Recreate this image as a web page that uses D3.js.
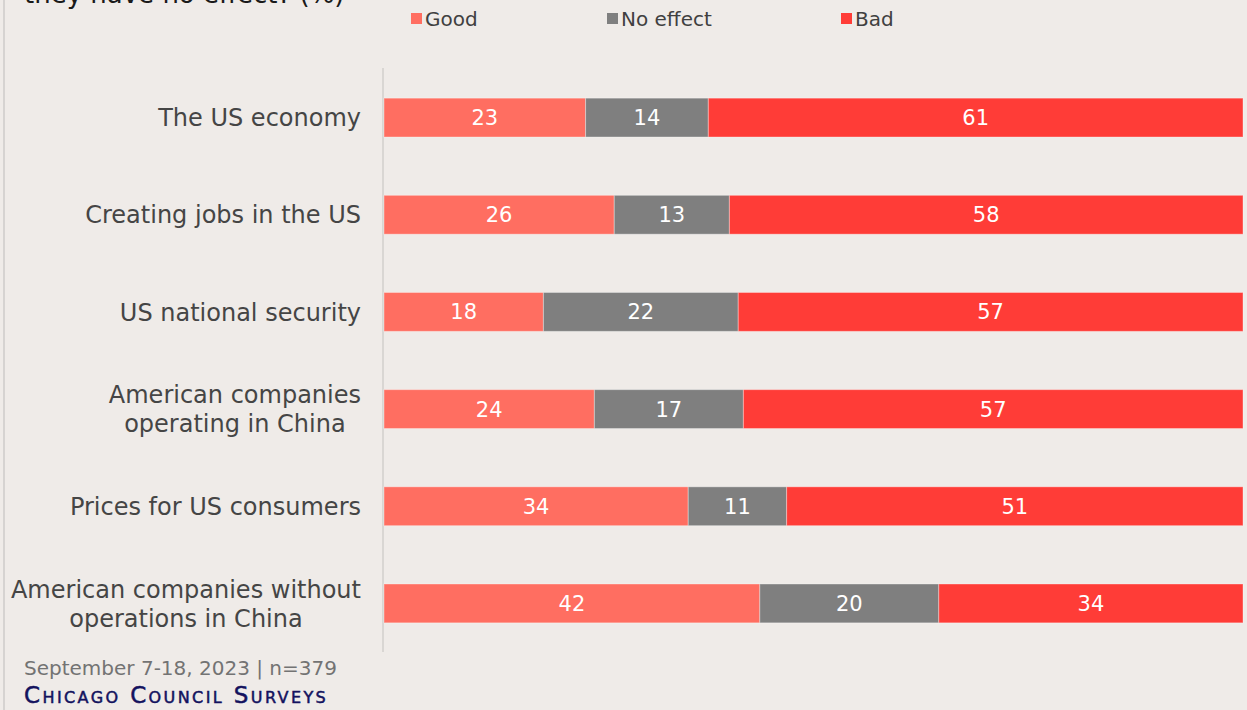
<!DOCTYPE html>
<html>
<head>
<meta charset="utf-8">
<script src="https://cdn.jsdelivr.net/npm/d3@7"></script>
<style>
  html, body { margin: 0; padding: 0; background: #efebe8; }
  svg { display: block; }
  text { font-family: "DejaVu Sans", sans-serif; }
</style>
</head>
<body>
<svg id="chart" width="1247" height="710"></svg>
<script>
// Survey items, in display order (multi-line labels split per line)
const categories = [
  ["The US economy"],
  ["Creating jobs in the US"],
  ["US national security"],
  ["American companies", "operating in China"],
  ["Prices for US consumers"],
  ["American companies without", "operations in China"]
];
const seriesNames = ["Good", "No effect", "Bad"];
const good     = [23, 26, 18, 24, 34, 42];
const noEffect = [14, 13, 22, 17, 11, 20];
const bad      = [61, 58, 57, 57, 51, 34];
const colors = ["#ff6e61", "#7f7f7f", "#ff3c37"];

const rows = categories.map((c, i) => ({
  key: i, label: c, "Good": good[i], "No effect": noEffect[i], "Bad": bad[i]
}));

const svg = d3.select("#chart");
const W = 1247, H = 710;

// panel border on the left
svg.append("line").attr("x1", 4).attr("x2", 4).attr("y1", 0).attr("y2", H)
  .attr("stroke", "#d6d3d1").attr("stroke-width", 2);

// title (runs off the top edge)
svg.append("text").attr("x", 24).attr("y", 3)
  .attr("font-size", 26).attr("fill", "#1a1a1a")
  .text("they have no effect? (%)");

const x = d3.scaleLinear().domain([0, 1]).range([384, 1243]);
const y = d3.scaleBand().domain(rows.map(r => r.key)).range([69, 652]).paddingInner(0.6).paddingOuter(0.3);

const stacked = d3.stack().keys(seriesNames).offset(d3.stackOffsetExpand)(rows);

// category axis line
svg.append("line").attr("x1", 383).attr("x2", 383).attr("y1", 68).attr("y2", 652)
  .attr("stroke", "#d9d6d3").attr("stroke-width", 2);

const layers = svg.append("g").selectAll("g").data(stacked).join("g")
  .attr("fill", (d, i) => colors[i]);

layers.selectAll("rect").data(d => d).join("rect")
  .attr("x", d => x(d[0]))
  .attr("width", d => x(d[1]) - x(d[0]))
  .attr("y", d => y(d.data.key))
  .attr("height", y.bandwidth())
  .attr("stroke", "rgba(255,255,255,0.35)").attr("stroke-width", 1);

layers.each(function(layer, li) {
  d3.select(this).selectAll("text").data(layer).join("text")
    .attr("x", d => (x(d[0]) + x(d[1])) / 2)
    .attr("y", d => y(d.data.key) + y.bandwidth() / 2)
    .attr("dy", "0.36em")
    .attr("text-anchor", "middle")
    .attr("fill", "#ffffff").attr("font-size", 21)
    .text(d => d.data[seriesNames[li]]);
});

// category labels: lines centred on each other, block right-aligned to the axis
const labelRight = 361, lineGap = 29;
const labels = svg.append("g").selectAll("text").data(rows).join("text")
  .attr("font-size", 24).attr("fill", "#454545")
  .attr("text-anchor", "middle")
  .attr("y", d => y(d.key) + y.bandwidth() / 2 - (d.label.length - 1) * lineGap / 2);
labels.selectAll("tspan").data(d => d.label).join("tspan")
  .attr("dy", (t, i) => i === 0 ? "0.36em" : lineGap)
  .text(t => t);
labels.each(function() {
  const ts = d3.select(this).selectAll("tspan");
  let maxW = 0;
  ts.each(function() { maxW = Math.max(maxW, this.getComputedTextLength()); });
  ts.attr("x", labelRight - maxW / 2);
});

// legend
const legendX = [411, 607, 841];
const legend = svg.append("g").selectAll("g").data(seriesNames).join("g")
  .attr("transform", (d, i) => `translate(${legendX[i]},0)`);
legend.append("rect").attr("x", 0).attr("y", 13).attr("width", 11).attr("height", 11)
  .attr("fill", (d, i) => colors[i]);
legend.append("text").attr("x", 14).attr("y", 19).attr("dy", "0.36em")
  .attr("font-size", 20).attr("fill", "#404040").text(d => d);

// footer
svg.append("text").attr("x", 24).attr("y", 675).attr("font-size", 20).attr("fill", "#737373")
  .text("September 7-18, 2023 | n=379");
svg.append("text").attr("x", 24).attr("y", 703).attr("font-size", 23).attr("fill", "#13125e")
  .attr("stroke", "#13125e").attr("stroke-width", 0.5)
  .attr("letter-spacing", 2.4)
  .style("font-variant", "small-caps")
  .text("Chicago Council Surveys");
</script>
</body>
</html>
